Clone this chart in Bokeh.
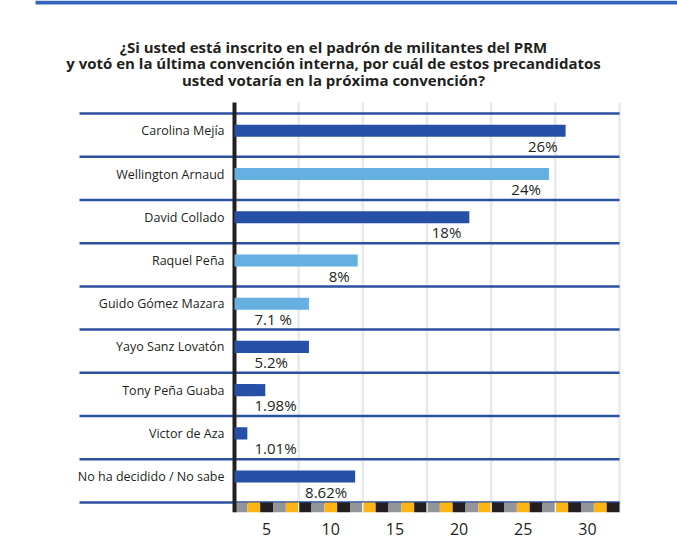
import numpy as np
from bokeh.plotting import figure
from bokeh.models import Range1d, FixedTicker
from bokeh.embed import file_html
from bokeh.resources import INLINE
from bokeh.core.properties import value

# ---------------- data ----------------
candidates = ["Carolina Mejía", "Wellington Arnaud", "David Collado", "Raquel Peña",
              "Guido Gómez Mazara", "Yayo Sanz Lovatón", "Tony Peña Guaba",
              "Victor de Aza", "No ha decidido / No sabe"]
pct_labels = ["26%", "24%", "18%", "8%", "7.1 %", "5.2%", "1.98%", "1.01%", "8.62%"]
bar_values = [25.8, 24.5, 18.3, 9.6, 5.8, 5.8, 2.4, 1.0, 9.4]   # bar lengths as drawn
bar_shade = ["dark", "light", "dark", "light", "light", "dark", "dark", "dark", "dark"]
x_grid_values = [5, 10, 15, 20, 25, 30]
x_tick_labels = ["5", "10", "15", "20", "25", "30"]
title_lines = ["¿Si usted está inscrito en el padrón de militantes del PRM",
               "y votó en la última convención interna, por cuál de estos precandidatos",
               "usted votaría en la próxima convención?"]

# ---------------- style / layout ----------------
DARK, LIGHT = "#2550A5", "#63B0E1"
SEP, GRID, INK, TOPBAR = "#2A51A0", "#E7E9EF", "#231F20", "#3565B8"
STRIP = ["#939598", "#FDB515", "#231F20"]
FONT = "Open Sans"

W, H = 677, 556
FB = 512                      # frame bottom (px); frame covers the canvas above it
ROWS_TOP, ROWS_BOT = 113, 502 # first / last separator (px)
ZERO_PX, RIGHT_PX = 234, 619  # x = 0 and x = max grid value (px)
SEP_LEFT_PX = 79
GRID_TOP_PX = 102
TITLE_X_PX, TITLE_Y_PX, TITLE_DY = 333, 46, 16.5

n = len(candidates)
row_px = (ROWS_BOT - ROWS_TOP) / n
x_end = max(x_grid_values)
ppu = (RIGHT_PX - ZERO_PX) / x_end


def xd(px):
    return (px - ZERO_PX) / ppu


def yd(px):
    return (px - ROWS_TOP) / row_px - 0.5


step = x_grid_values[1] - x_grid_values[0]

p = figure(width=W, height=H, x_range=Range1d(xd(0), xd(W)), y_range=Range1d(yd(FB), yd(0)),
           min_border_left=0, min_border_right=0, min_border_top=0,
           min_border_bottom=H - FB, output_backend="svg", toolbar_location=None,
           y_axis_location=None)
p.outline_line_color = None
p.background_fill_color = "white"
p.border_fill_color = "white"
p.xgrid.visible = False
p.ygrid.visible = False

# x axis: labels centred between grid lines
mids = [v - step / 2 for v in x_grid_values]
ax = p.xaxis[0]
ax.ticker = FixedTicker(ticks=mids)
ax.major_label_overrides = {m: t for m, t in zip(mids, x_tick_labels)}
ax.axis_line_color = None
ax.major_tick_line_color = None
ax.minor_tick_line_color = None
ax.major_label_standoff = 4
ax.major_label_text_font = FONT
ax.major_label_text_font_size = "16px"
ax.major_label_text_color = INK

# top blue bar
p.quad(left=xd(35), right=xd(W), top=yd(0), bottom=yd(4), fill_color=TOPBAR, line_color=None)

# vertical grid lines
p.segment(x0=x_grid_values, x1=x_grid_values, y0=yd(GRID_TOP_PX), y1=yd(FB),
          line_color=GRID, line_width=2.5)

# row separators
seps = [i - 0.5 for i in range(n + 1)]
p.segment(x0=xd(SEP_LEFT_PX), x1=x_end, y0=seps, y1=seps, line_color=SEP, line_width=2.5)

# checkered strip
cells = list(range(int(x_end)))
p.quad(left=cells, right=[c + 1 for c in cells], top=n - 0.5, bottom=yd(FB),
       fill_color=[STRIP[c % 3] for c in cells], line_color=None)
p.segment(x0=x_grid_values[:-1], x1=x_grid_values[:-1], y0=n - 0.5, y1=yd(FB),
          line_color="white", line_width=1.2)

# vertical black axis line
p.segment(x0=0, x1=0, y0=yd(GRID_TOP_PX), y1=yd(FB), line_color=INK, line_width=4)

# bars
rows = np.arange(n)
bar_y = rows - 0.1
colors = [DARK if s == "dark" else LIGHT for s in bar_shade]
p.hbar(y=bar_y, left=0, right=bar_values, height=0.28, fill_color=colors, line_color=None)

# category labels
p.text(x=0, y=bar_y, text=candidates, x_offset=-10, text_align="right",
       text_baseline="middle", text_font=value(FONT), text_font_size="12.5px",
       text_color=INK)

# percentage labels
big = [i for i in range(n) if bar_values[i] > 8]
small = [i for i in range(n) if bar_values[i] <= 8]
p.text(x=[bar_values[i] for i in big], y=[rows[i] + 0.25 for i in big],
       text=[pct_labels[i] for i in big], x_offset=-8, text_align="right",
       text_baseline="middle", text_font=value(FONT), text_font_size="15px",
       text_color=INK)
p.text(x=[0] * len(small), y=[rows[i] + 0.25 for i in small],
       text=[pct_labels[i] for i in small], x_offset=20, text_align="left",
       text_baseline="middle", text_font=value(FONT), text_font_size="15px",
       text_color=INK)

# title
p.text(x=[xd(TITLE_X_PX)] * len(title_lines),
       y=[yd(TITLE_Y_PX + k * TITLE_DY) for k in range(len(title_lines))],
       text=title_lines, text_align="center", text_baseline="alphabetic",
       text_font=value(FONT), text_font_style="bold", text_font_size="15px",
       text_color=INK)

open("out.html", "w").write(file_html(p, INLINE))
